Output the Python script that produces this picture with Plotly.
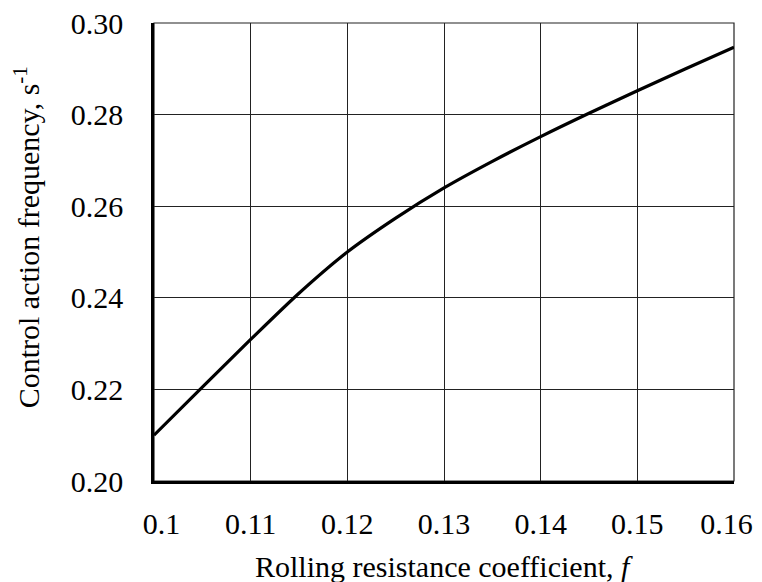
import plotly.graph_objects as go

f_vals = [0.10, 0.105, 0.11, 0.115, 0.12, 0.125, 0.13, 0.135, 0.14, 0.145, 0.15, 0.155, 0.16]
freq = [0.2100, 0.2205, 0.2309, 0.2410, 0.2500, 0.2574, 0.2640, 0.2698, 0.2752, 0.2803, 0.2852, 0.2900, 0.2947]

x_ticks = [0.10, 0.11, 0.12, 0.13, 0.14, 0.15, 0.16]
x_ticktext = ["\u00a0\u00a00.1", "0.11", "0.12", "0.13", "0.14", "0.15", "0.16\u00a0\u00a0"]
y_ticks = [0.20, 0.22, 0.24, 0.26, 0.28, 0.30]
y_ticktext = ["0.20", "0.22", "0.24", "0.26", "0.28", "0.30"]

x_title = "Rolling resistance coefficient, <i>f</i>"
y_title = "Control action frequency, s<sup>-1</sup>"

FONT = "Liberation Serif"
FS = 30

fig = go.Figure()
fig.add_trace(go.Scatter(x=f_vals, y=freq, mode="lines",
                         line=dict(color="black", width=3.2, shape="spline", smoothing=0.8),
                         showlegend=False, hoverinfo="skip"))

# page body has an 8px margin, so the figure is sized to fit inside the window
fig.update_layout(
    width=754, height=574,
    margin=dict(l=146, r=28, t=15, b=101),
    paper_bgcolor="white", plot_bgcolor="white",
    font=dict(family=FONT, size=FS, color="black"),
    shapes=[dict(type="rect", xref="paper", yref="paper", x0=0, y0=0, x1=1, y1=1,
                 line=dict(color="#222", width=1.2), layer="below")],
    annotations=[
        dict(text=x_title, xref="paper", yref="paper", x=0.5, y=-0.186,
             xanchor="center", yanchor="middle", showarrow=False,
             font=dict(family=FONT, size=FS, color="black")),
        dict(text=y_title, xref="paper", yref="paper", x=-0.219, y=0.532,
             xanchor="center", yanchor="middle", showarrow=False, textangle=-90,
             font=dict(family=FONT, size=FS, color="black")),
    ],
)
fig.update_xaxes(
    range=[0.10, 0.16], tickvals=x_ticks, ticktext=x_ticktext,
    showgrid=True, gridcolor="#222", gridwidth=1.2,
    showline=True, linecolor="black", linewidth=2.5,
    ticks="outside", ticklen=14, tickcolor="rgba(0,0,0,0)",
    zeroline=False, automargin=False, ticklabeloverflow="allow",
)
fig.update_yaxes(
    range=[0.20, 0.30], tickvals=y_ticks, ticktext=y_ticktext,
    showgrid=True, gridcolor="#222", gridwidth=1.2,
    showline=True, linecolor="black", linewidth=2.5,
    ticks="outside", ticklen=22, tickcolor="rgba(0,0,0,0)",
    zeroline=False, automargin=False, ticklabeloverflow="allow",
)

fig.write_html("out.html")
